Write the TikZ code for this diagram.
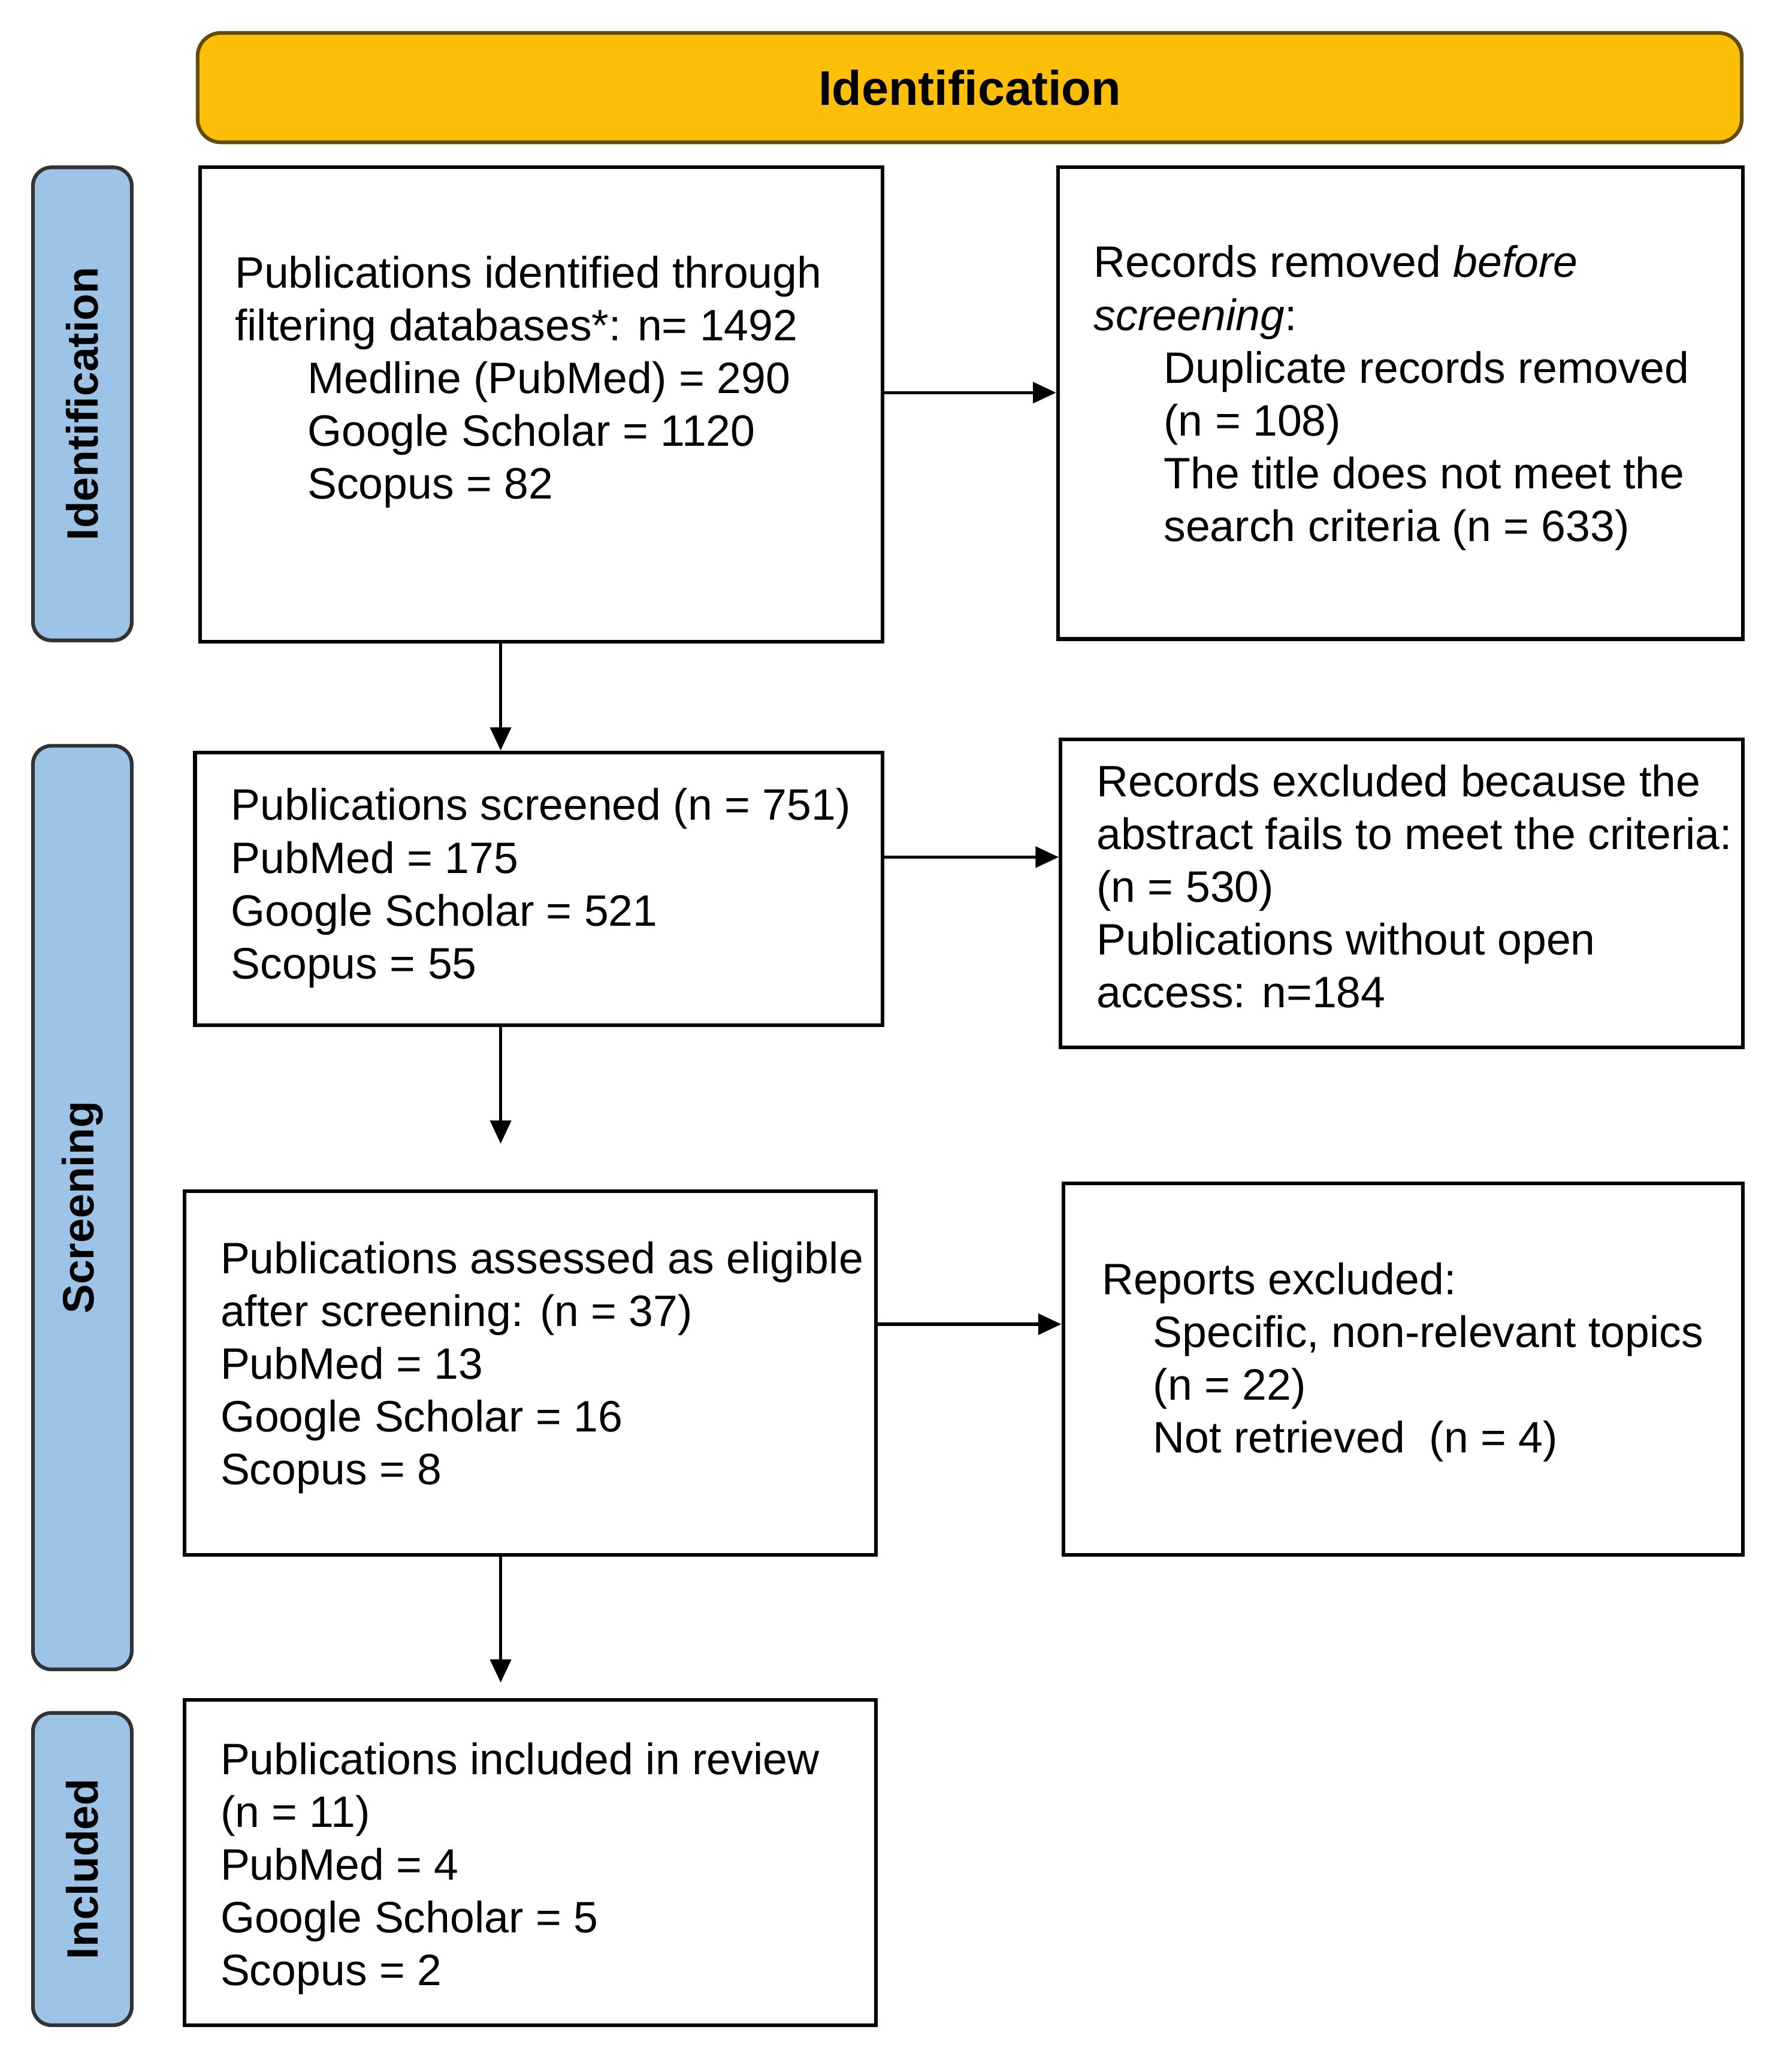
\documentclass[tikz,border=0pt]{standalone}
\usepackage{fontspec}
\setmainfont{Liberation Sans}
\usetikzlibrary{arrows.meta,calc}
\begin{document}
\begin{tikzpicture}[x=0.02cm,y=-0.02cm,
  box/.style={draw=black,line width=1.6pt,inner sep=0pt},
  side/.style={draw=black!80,line width=1.6pt,fill=sideblue,rounded corners=8pt,inner sep=0pt},
  txt/.style={anchor=north west,inner sep=0pt,align=left,font=\fontsize{19}{22.8}\selectfont},
  arr/.style={line width=1.3pt,-{Triangle[length=10pt,width=9pt]}}]
\definecolor{sideblue}{HTML}{9DC3E6}
\definecolor{banner}{HTML}{FBBF0A}
\useasboundingbox (0,0) rectangle (1360,1568);
\node[draw=black!60!banner,line width=1.6pt,fill=banner,rounded corners=10pt,minimum width=1172*0.02cm,minimum height=83*0.02cm,font=\fontsize{21}{25}\selectfont\bfseries] (ban) at (736,66.5) {Identification};
\node[side,minimum width=359*0.02cm,minimum height=75*0.02cm,rotate=90,font=\fontsize{19}{23}\selectfont\bfseries] (s1) at (62.5,306.5) {Identification};
\node[side,minimum width=701*0.02cm,minimum height=75*0.02cm,rotate=90,font=\fontsize{19}{23}\selectfont\bfseries] (s2) at (62.5,916.5) {Screening};
\node[side,minimum width=237*0.02cm,minimum height=75*0.02cm,rotate=90,font=\fontsize{19}{23}\selectfont\bfseries] (s3) at (62.5,1418.5) {Included};
\node[box,minimum width=518*0.02cm,minimum height=360*0.02cm] (b1) at (411,307) {};
\node[box,minimum width=520*0.02cm,minimum height=358*0.02cm] (b2) at (1063,306) {};
\node[box,minimum width=522*0.02cm,minimum height=207*0.02cm] (b3) at (409,674.5) {};
\node[box,minimum width=518*0.02cm,minimum height=234*0.02cm] (b4) at (1064,678) {};
\node[box,minimum width=525*0.02cm,minimum height=276*0.02cm] (b5) at (402.5,1042) {};
\node[box,minimum width=516*0.02cm,minimum height=282*0.02cm] (b6) at (1065,1039) {};
\node[box,minimum width=525*0.02cm,minimum height=247*0.02cm] (b7) at (402.5,1413.5) {};
\node[txt] (t1) at (178,194) {Publications identified through\\filtering databases*: n= 1492\\\hspace*{1.1cm}Medline (PubMed) = 290\\\hspace*{1.1cm}Google Scholar = 1120\\\hspace*{1.1cm}Scopus = 82};
\node[txt] (t2) at (830,186) {Records removed \emph{before}\\\emph{screening}:\\\hspace*{1.06cm}Duplicate records removed\\\hspace*{1.06cm}(n = 108)\\\hspace*{1.06cm}The title does not meet the\\\hspace*{1.06cm}search criteria (n = 633)};
\node[txt] (t3) at (175,598) {Publications screened (n = 751)\\PubMed = 175\\Google Scholar = 521\\Scopus = 55};
\node[txt] (t4) at (832,580) {Records excluded because the\\abstract fails to meet the criteria:\\(n = 530)\\Publications without open\\access: n=184};
\node[txt] (t5) at (167,942) {Publications assessed as eligible\\after screening: (n = 37)\\PubMed = 13\\Google Scholar = 16\\Scopus = 8};
\node[txt] (t6) at (836,958) {Reports excluded:\\\hspace*{0.78cm}Specific, non-relevant topics\\\hspace*{0.78cm}(n = 22)\\\hspace*{0.78cm}Not retrieved\ \ (n = 4)};
\node[txt] (t7) at (167,1322) {Publications included in review\\(n = 11)\\PubMed = 4\\Google Scholar = 5\\Scopus = 2};
\coordinate (c1) at (380,868);
\coordinate (c2) at (380,1277);
\draw[arr] ($(b1.east)+(0,-9)$) -- ($(b2.west|-b1.east)+(0,-9)$);
\draw[arr] ($(b3.east)+(0,-24)$) -- ($(b4.west|-b3.east)+(0,-24)$);
\draw[arr] ($(b5.east)+(0,-37)$) -- ($(b6.west|-b5.east)+(0,-37)$);
\draw[arr] (b1.south-|c1) -- (b3.north-|c1);
\draw[arr] (b3.south-|c1) -- (c1);
\draw[arr] (b5.south-|c2) -- (c2);
\end{tikzpicture}
\end{document}
